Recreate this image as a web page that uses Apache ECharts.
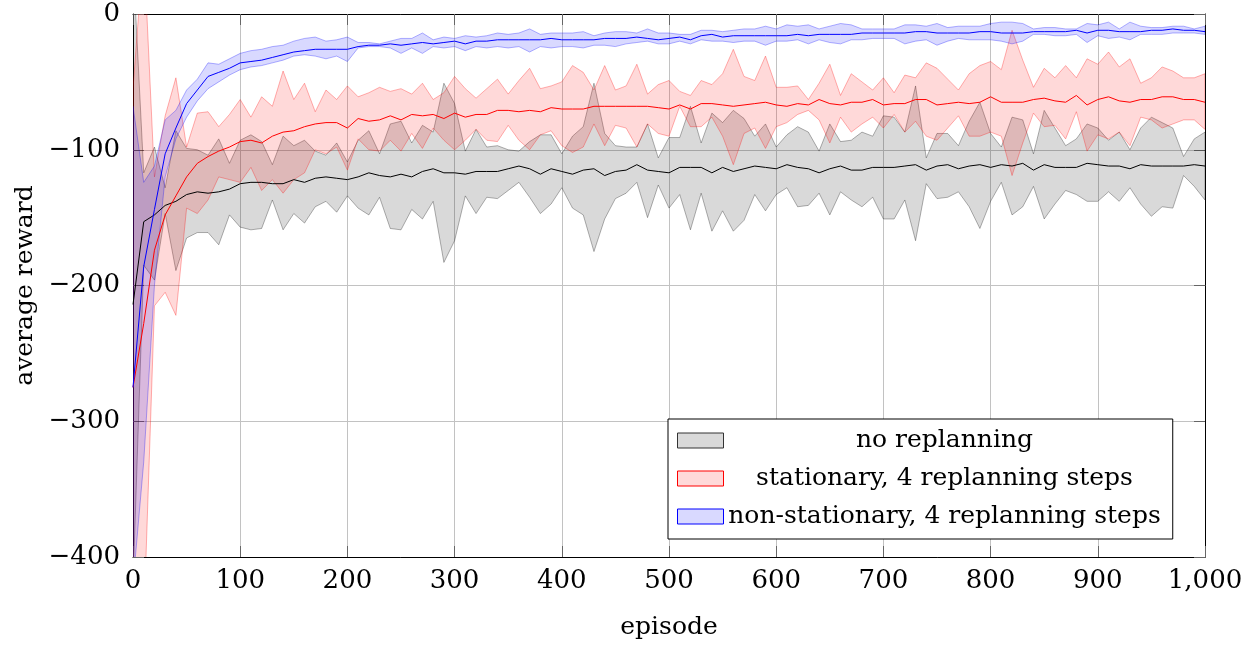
<!DOCTYPE html>
<html>
<head>
<meta charset="utf-8">
<script src="https://cdn.jsdelivr.net/npm/echarts@6/dist/echarts.min.js"></script>
<style>
  html, body { margin: 0; padding: 0; background: #fff; }
  #chart { width: 1252px; height: 646px; }
</style>
</head>
<body>
<div id="chart"></div>
<script>
// x positions (episode)
const episodes = [
  0, 10, 20, 30, 40, 50, 60, 70, 80, 90, 100, 110, 120, 130, 140, 150, 160, 170, 180, 190,
  200, 210, 220, 230, 240, 250, 260, 270, 280, 290, 300, 310, 320, 330, 340, 350, 360, 370, 380, 390,
  400, 410, 420, 430, 440, 450, 460, 470, 480, 490, 500, 510, 520, 530, 540, 550, 560, 570, 580, 590,
  600, 610, 620, 630, 640, 650, 660, 670, 680, 690, 700, 710, 720, 730, 740, 750, 760, 770, 780, 790,
  800, 810, 820, 830, 840, 850, 860, 870, 880, 890, 900, 910, 920, 930, 940, 950, 960, 970, 980, 990, 1000
];

// no replanning
const noRepMean = [
  -214, -153, -148, -141, -138, -133, -131, -132, -131, -129, -125, -124, -124, -125, -125, -122, -124, -121, -120, -121,
  -122, -120, -117, -119, -120, -118, -120, -116, -114, -117, -117, -118, -116, -116, -116, -114, -112, -114, -118, -114,
  -116, -118, -115, -114, -119, -116, -115, -111, -115, -116, -117, -113, -113, -113, -117, -113, -116, -114, -112, -113,
  -114, -111, -113, -114, -117, -114, -112, -115, -115, -113, -113, -113, -112, -111, -115, -112, -111, -114, -112, -111,
  -113, -111, -112, -110, -115, -111, -113, -113, -113, -110, -111, -112, -112, -114, -111, -112, -112, -112, -112, -111, -112
];
const noRepUpper = [
  40, -117, -98, -128, -86, -99, -100, -104, -92, -110, -93, -89, -94, -111, -90, -97, -93, -101, -104, -95,
  -109, -93, -86, -103, -81, -79, -95, -82, -87, -51, -66, -101, -85, -98, -97, -100, -101, -94, -89, -89,
  -103, -90, -83, -51, -88, -97, -98, -98, -81, -106, -91, -91, -68, -95, -73, -80, -71, -77, -90, -81,
  -98, -89, -83, -87, -101, -81, -94, -93, -87, -90, -75, -76, -87, -53, -106, -88, -88, -97, -79, -65,
  -88, -98, -76, -78, -103, -71, -84, -97, -92, -81, -84, -93, -87, -100, -84, -76, -80, -84, -105, -92, -87
];
const noRepLower = [
  -420, -185, -196, -147, -189, -165, -161, -161, -170, -148, -157, -159, -158, -137, -159, -147, -154, -142, -138, -146,
  -134, -143, -148, -135, -158, -159, -144, -151, -138, -183, -167, -134, -147, -135, -136, -130, -124, -135, -147, -140,
  -128, -143, -148, -175, -151, -136, -132, -124, -150, -126, -143, -133, -159, -132, -160, -145, -160, -152, -133, -145,
  -133, -128, -142, -141, -132, -148, -131, -137, -142, -135, -151, -151, -137, -167, -125, -136, -135, -131, -142, -158,
  -138, -124, -148, -142, -127, -151, -140, -130, -133, -138, -138, -131, -138, -128, -140, -149, -142, -143, -119, -127, -137
];

// stationary, 4 replanning steps
const statMean = [
  -275, -228, -174, -148, -134, -120, -110, -105, -101, -98, -94, -93, -95, -90, -87, -86, -83, -81, -80, -80,
  -84, -77, -79, -78, -75, -78, -74, -75, -74, -77, -73, -76, -74, -74, -71, -71, -72, -71, -72, -69,
  -70, -70, -70, -68, -68, -68, -68, -68, -68, -69, -70, -67, -70, -66, -66, -67, -68, -67, -66, -65,
  -67, -68, -66, -67, -63, -66, -67, -65, -65, -63, -67, -66, -66, -63, -63, -67, -66, -65, -66, -65,
  -61, -65, -65, -65, -63, -62, -64, -65, -60, -67, -63, -61, -64, -65, -63, -63, -61, -61, -63, -63, -65
];
const statUpper = [
  -55, 50, -120, -75, -47, -98, -73, -72, -83, -74, -63, -76, -61, -68, -42, -63, -51, -72, -56, -63,
  -53, -61, -58, -54, -57, -55, -59, -51, -63, -58, -46, -55, -62, -55, -48, -59, -49, -40, -55, -53,
  -50, -38, -43, -56, -38, -56, -53, -37, -59, -52, -49, -57, -60, -49, -52, -44, -26, -46, -49, -31,
  -54, -54, -53, -63, -51, -37, -60, -44, -50, -56, -47, -58, -45, -47, -36, -40, -48, -56, -44, -38,
  -35, -41, -12, -34, -54, -40, -47, -38, -47, -33, -37, -28, -39, -33, -51, -47, -39, -42, -47, -47, -44
];
const statLower = [
  -450, -450, -215, -205, -222, -143, -147, -137, -120, -122, -124, -113, -130, -122, -132, -122, -117, -100, -103, -98,
  -115, -92, -100, -101, -93, -101, -88, -99, -84, -93, -100, -93, -85, -93, -94, -82, -93, -100, -89, -86,
  -97, -102, -98, -81, -97, -82, -84, -98, -81, -88, -90, -68, -83, -83, -76, -90, -111, -88, -84, -99,
  -83, -80, -74, -71, -78, -95, -76, -87, -81, -76, -84, -74, -87, -79, -90, -93, -84, -75, -90, -90,
  -87, -90, -119, -95, -73, -83, -82, -92, -72, -101, -89, -92, -87, -97, -76, -78, -84, -81, -78, -78, -85
];

// non-stationary, 4 replanning steps
const nonStatMean = [
  -275, -186, -144, -103, -84, -66, -56, -46, -43, -40, -36, -35, -34, -32, -30, -28, -27, -26, -26, -26,
  -26, -24, -23, -23, -22, -23, -22, -21, -22, -21, -20, -22, -20, -20, -19, -19, -19, -19, -19, -18,
  -19, -19, -19, -19, -18, -18, -18, -17, -18, -19, -18, -17, -19, -16, -15, -17, -16, -16, -16, -16,
  -16, -16, -15, -16, -15, -15, -15, -15, -14, -14, -14, -14, -14, -13, -13, -14, -14, -14, -14, -13,
  -13, -14, -14, -14, -13, -13, -13, -13, -12, -14, -12, -12, -13, -13, -13, -12, -12, -11, -12, -12, -13
];
const nonStatUpper = [
  -68, -124, -112, -78, -71, -56, -48, -36, -37, -33, -29, -27, -26, -24, -23, -20, -18, -17, -20, -19,
  -17, -21, -21, -22, -20, -18, -18, -14, -19, -17, -18, -16, -17, -16, -14, -15, -14, -11, -15, -14,
  -14, -14, -13, -16, -14, -13, -13, -14, -11, -14, -14, -15, -15, -12, -12, -13, -12, -11, -11, -9,
  -11, -8, -9, -8, -11, -9, -7, -8, -11, -11, -11, -11, -8, -8, -9, -7, -10, -9, -9, -9,
  -7, -6, -6, -7, -11, -10, -10, -11, -11, -7, -8, -6, -11, -6, -9, -10, -10, -9, -9, -11, -9
];
const nonStatLower = [
  -420, -330, -200, -120, -92, -76, -64, -55, -50, -45, -41, -39, -38, -36, -34, -31, -30, -31, -33, -31,
  -35, -25, -24, -24, -25, -29, -25, -29, -24, -25, -24, -27, -24, -25, -24, -25, -24, -28, -24, -25,
  -24, -24, -25, -23, -23, -24, -22, -21, -20, -22, -22, -20, -22, -19, -20, -20, -21, -20, -20, -23,
  -20, -20, -19, -22, -19, -21, -22, -19, -19, -18, -18, -18, -22, -20, -19, -23, -20, -18, -19, -19,
  -19, -20, -22, -20, -15, -15, -16, -16, -15, -21, -16, -18, -17, -19, -15, -15, -15, -14, -14, -14, -15
];

const yTicks = [-400, -300, -200, -100, 0];
const xTicks = [0, 100, 200, 300, 400, 500, 600, 700, 800, 900, 1000];

const names = ['no replanning', 'stationary, 4 replanning steps', 'non-stationary, 4 replanning steps'];
const serif = 'DejaVu Serif';

function bandSeries(name, upper, lower, fill, stroke) {
  return {
    name,
    type: 'custom',
    clip: true,
    silent: true,
    data: [0],
    renderItem: function (params, api) {
      const pts = [];
      for (let i = 0; i < episodes.length; i++) pts.push(api.coord([episodes[i], upper[i]]));
      for (let i = episodes.length - 1; i >= 0; i--) pts.push(api.coord([episodes[i], lower[i]]));
      return {
        type: 'polygon',
        shape: { points: pts },
        style: { fill: fill, stroke: stroke, lineWidth: 1 }
      };
    }
  };
}

function meanSeries(name, values, color) {
  return {
    name,
    type: 'line',
    data: episodes.map((e, i) => [e, values[i]]),
    showSymbol: false,
    symbol: 'none',
    lineStyle: { color: color, width: 1 },
    itemStyle: { color: color }
  };
}

const minus = v => String(v).replace('-', '\u2212');

// pgfplots-like box: ticks inside on all four sides
const tickStyle = { show: true, inside: true, length: 11, lineStyle: { color: '#666' } };
const boxLine = { show: true, onZero: false, lineStyle: { color: '#000', width: 1 } };

const chart = echarts.init(document.getElementById('chart'));
chart.setOption({
  animation: false,
  backgroundColor: '#fff',
  grid: { left: 133, right: 47, top: 14, bottom: 89 },
  legend: {
    orient: 'vertical',
    left: 668,
    top: 419,
    padding: [9, 12, 10, 9],
    itemGap: 13,
    itemWidth: 46,
    itemHeight: 15,
    borderColor: '#000',
    borderWidth: 1,
    backgroundColor: '#fff',
    selectedMode: false,
    formatter: name => '{c|' + name + '}',
    textStyle: {
      rich: {
        c: { width: 432, align: 'center', fontSize: 25, lineHeight: 25, fontFamily: serif, color: '#000' }
      }
    },
    data: [
      { name: names[0], icon: 'rect', itemStyle: { color: '#d9d9d9', borderColor: '#333', borderWidth: 1 } },
      { name: names[1], icon: 'rect', itemStyle: { color: '#ffd9d9', borderColor: '#f00', borderWidth: 1 } },
      { name: names[2], icon: 'rect', itemStyle: { color: '#d9d9ff', borderColor: '#00f', borderWidth: 1 } }
    ]
  },
  xAxis: [{
    type: 'value',
    min: xTicks[0],
    max: xTicks[xTicks.length - 1],
    interval: 100,
    position: 'bottom',
    name: 'episode',
    nameLocation: 'middle',
    nameGap: 58,
    nameTextStyle: { fontSize: 25, fontFamily: serif, color: '#000' },
    axisLine: boxLine,
    axisTick: tickStyle,
    axisLabel: {
      margin: 11, fontSize: 26, fontFamily: serif, color: '#000',
      formatter: v => (v >= 1000 ? '1,000' : String(v))
    },
    splitLine: { show: true, lineStyle: { color: '#c2c2c2', width: 1 } }
  }, {
    type: 'value',
    min: xTicks[0],
    max: xTicks[xTicks.length - 1],
    interval: 100,
    position: 'top',
    axisLine: boxLine,
    axisTick: tickStyle,
    axisLabel: { show: false },
    splitLine: { show: false }
  }],
  yAxis: [{
    type: 'value',
    min: yTicks[0],
    max: yTicks[yTicks.length - 1],
    interval: 100,
    position: 'left',
    name: 'average reward',
    nameLocation: 'middle',
    nameGap: 94,
    nameRotate: 90,
    nameTextStyle: { fontSize: 25, fontFamily: serif, color: '#000' },
    axisLine: boxLine,
    axisTick: tickStyle,
    axisLabel: { margin: 13, fontSize: 26, fontFamily: serif, color: '#000', formatter: minus },
    splitLine: { show: true, lineStyle: { color: '#c2c2c2', width: 1 } }
  }, {
    type: 'value',
    min: yTicks[0],
    max: yTicks[yTicks.length - 1],
    interval: 100,
    position: 'right',
    axisLine: boxLine,
    axisTick: tickStyle,
    axisLabel: { show: false },
    splitLine: { show: false }
  }],
  series: [
    bandSeries(names[0], noRepUpper, noRepLower, 'rgba(0,0,0,0.15)', 'rgba(0,0,0,0.3)'),
    meanSeries(names[0], noRepMean, '#000'),
    bandSeries(names[1], statUpper, statLower, 'rgba(255,0,0,0.15)', 'rgba(255,0,0,0.3)'),
    meanSeries(names[1], statMean, '#f00'),
    bandSeries(names[2], nonStatUpper, nonStatLower, 'rgba(0,0,255,0.15)', 'rgba(0,0,255,0.3)'),
    meanSeries(names[2], nonStatMean, '#00f')
  ]
});
</script>
</body>
</html>
